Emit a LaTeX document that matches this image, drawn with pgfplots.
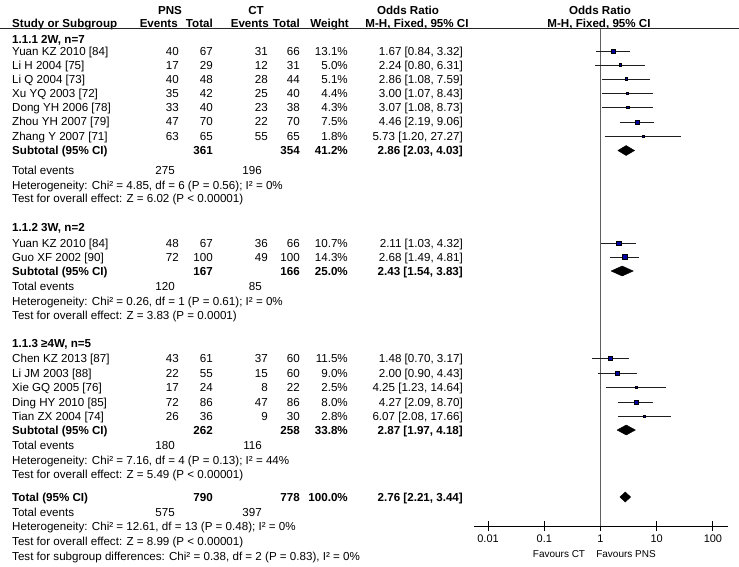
\documentclass[border=0pt]{standalone}
\usepackage{pgfplots}
\pgfplotsset{compat=1.18}
\usepackage{pgfplotstable}
\usepackage{fontspec}
\setmainfont{Liberation Sans}
\definecolor{sqblue}{RGB}{0,0,165}
\definecolor{vline}{RGB}{95,95,95}
\definecolor{ciline}{RGB}{30,30,30}

% study estimates: y = row position (px from top), or, lo, hi, weight, half-size of square
\pgfplotstableread{
y or lo hi w ms
51 1.67 0.84 3.32 13.1 2.26
65 2.24 0.80 6.31 5.0 1.40
79 2.86 1.08 7.59 5.1 1.41
93 3.00 1.07 8.43 4.4 1.31
107 3.07 1.08 8.73 4.3 1.30
122 4.46 2.19 9.06 7.5 1.71
136 5.73 1.20 27.27 1.8 0.84
243 2.11 1.03 4.32 10.7 2.04
257 2.68 1.49 4.81 14.3 2.36
358 1.48 0.70 3.17 11.5 2.12
373 2.00 0.90 4.43 9.0 1.88
387 4.25 1.23 14.64 2.5 0.99
402 4.27 2.09 8.70 8.0 1.77
416 6.07 2.08 17.66 2.8 1.05
}\studies

\tikzset{
  L/.style={anchor=base west, inner sep=0pt},
  Rt/.style={anchor=base east, inner sep=0pt},
  C/.style={anchor=base, inner sep=0pt}
}
\newcommand{\yb}[1]{{-(#1+4)*1pt}}
\newcommand{\study}[8]{%
  \node[L]  at (12pt,\yb{#1}) {#2};
  \node[Rt] at (179pt,\yb{#1}) {#3};
  \node[Rt] at (213pt,\yb{#1}) {#4};
  \node[Rt] at (268pt,\yb{#1}) {#5};
  \node[Rt] at (300pt,\yb{#1}) {#6};
  \node[Rt] at (348pt,\yb{#1}) {#7};
  \node[Rt] at (463pt,\yb{#1}) {#8};
}
\newcommand{\subtot}[6]{%
  \node[L,font=\bfseries]  at (12pt,\yb{#1}) {#2};
  \node[Rt,font=\bfseries] at (213pt,\yb{#1}) {#3};
  \node[Rt,font=\bfseries] at (300pt,\yb{#1}) {#4};
  \node[Rt,font=\bfseries] at (348pt,\yb{#1}) {#5};
  \node[Rt,font=\bfseries] at (463pt,\yb{#1}) {#6};
}
\newcommand{\totev}[3]{%
  \node[L]  at (12pt,\yb{#1}) {Total events};
  \node[Rt] at (175pt,\yb{#1}) {#2};
  \node[Rt] at (262pt,\yb{#1}) {#3};
}
\newcommand{\plain}[2]{\node[L] at (12pt,\yb{#1}) {#2};}
\newcommand{\grp}[2]{\node[L,font=\bfseries] at (12pt,\yb{#1}) {#2};}

\begin{document}
{\fontsize{11.6}{14}\selectfont
\begin{tikzpicture}
% header
\node[C,font=\bfseries] at (170pt,-14.5pt) {PNS};
\node[C,font=\bfseries] at (256pt,-14.5pt) {CT};
\node[C,font=\bfseries] at (408pt,-14.5pt) {Odds Ratio};
\node[C,font=\bfseries] at (600pt,-14.5pt) {Odds Ratio};
\node[L,font=\bfseries]  at (12pt,-27pt) {Study or Subgroup};
\node[Rt,font=\bfseries] at (178pt,-27pt) {Events};
\node[Rt,font=\bfseries] at (213pt,-27pt) {Total};
\node[Rt,font=\bfseries] at (269pt,-27pt) {Events};
\node[Rt,font=\bfseries] at (300pt,-27pt) {Total};
\node[Rt,font=\bfseries] at (349pt,-27pt) {Weight};
\node[C,font=\bfseries]  at (417pt,-27pt) {M-H, Fixed, 95\% CI};
\node[C,font=\bfseries]  at (599pt,-27pt) {M-H, Fixed, 95\% CI};
\draw[black!85, line width=0.9pt] (0pt,-28.5pt) -- (739pt,-28.5pt);

% group 1
\grp{39}{1.1.1 2W, n=7}
\study{51}{Yuan KZ 2010 [84]}{40}{67}{31}{66}{13.1\%}{1.67 [0.84, 3.32]}
\study{65}{Li H 2004 [75]}{17}{29}{12}{31}{5.0\%}{2.24 [0.80, 6.31]}
\study{79}{Li Q 2004 [73]}{40}{48}{28}{44}{5.1\%}{2.86 [1.08, 7.59]}
\study{93}{Xu YQ 2003 [72]}{35}{42}{25}{40}{4.4\%}{3.00 [1.07, 8.43]}
\study{107}{Dong YH 2006 [78]}{33}{40}{23}{38}{4.3\%}{3.07 [1.08, 8.73]}
\study{121.5}{Zhou YH 2007 [79]}{47}{70}{22}{70}{7.5\%}{4.46 [2.19, 9.06]}
\study{136}{Zhang Y 2007 [71]}{63}{65}{55}{65}{1.8\%}{5.73 [1.20, 27.27]}
\subtot{150.5}{Subtotal (95\% CI)}{361}{354}{41.2\%}{2.86 [2.03, 4.03]}
\totev{170}{275}{196}
\plain{185}{Heterogeneity: Chi² = 4.85, df = 6 (P = 0.56); I² = 0\%}
\plain{198}{Test for overall effect: Z = 6.02 (P < 0.00001)}

% group 2
\grp{227}{1.1.2 3W, n=2}
\study{243}{Yuan KZ 2010 [84]}{48}{67}{36}{66}{10.7\%}{2.11 [1.03, 4.32]}
\study{257}{Guo XF 2002 [90]}{72}{100}{49}{100}{14.3\%}{2.68 [1.49, 4.81]}
\subtot{271}{Subtotal (95\% CI)}{167}{166}{25.0\%}{2.43 [1.54, 3.83]}
\totev{286}{120}{85}
\plain{301}{Heterogeneity: Chi² = 0.26, df = 1 (P = 0.61); I² = 0\%}
\plain{315}{Test for overall effect: Z = 3.83 (P = 0.0001)}

% group 3
\grp{343}{1.1.3 ≥4W, n=5}
\study{358}{Chen KZ 2013 [87]}{43}{61}{37}{60}{11.5\%}{1.48 [0.70, 3.17]}
\study{373}{Li JM 2003 [88]}{22}{55}{15}{60}{9.0\%}{2.00 [0.90, 4.43]}
\study{387}{Xie GQ 2005 [76]}{17}{24}{8}{22}{2.5\%}{4.25 [1.23, 14.64]}
\study{402}{Ding HY 2010 [85]}{72}{86}{47}{86}{8.0\%}{4.27 [2.09, 8.70]}
\study{416}{Tian ZX 2004 [74]}{26}{36}{9}{30}{2.8\%}{6.07 [2.08, 17.66]}
\subtot{430}{Subtotal (95\% CI)}{262}{258}{33.8\%}{2.87 [1.97, 4.18]}
\totev{445}{180}{116}
\plain{460}{Heterogeneity: Chi² = 7.16, df = 4 (P = 0.13); I² = 44\%}
\plain{474}{Test for overall effect: Z = 5.49 (P < 0.00001)}

% overall
\subtot{497}{Total (95\% CI)}{790}{778}{100.0\%}{2.76 [2.21, 3.44]}
\totev{512}{575}{397}
\plain{526}{Heterogeneity: Chi² = 12.61, df = 13 (P = 0.48); I² = 0\%}
\plain{541}{Test for overall effect: Z = 8.99 (P < 0.00001)}
\plain{556}{Test for subgroup differences: Chi² = 0.38, df = 2 (P = 0.83), I² = 0\%}

\begin{axis}[
  at={(474pt,-526pt)}, anchor=south west,
  width=254pt, height=497.5pt, scale only axis,
  xmode=log, xmin=0.005623, xmax=185.4,
  ymin=28.5, ymax=526, y dir=reverse,
  axis x line*=bottom, axis y line=none,
  xtick={0.01,0.1,1,10,100}, xticklabels={0.01,0.1,1,10,100},
  xminorticks=false, tick align=center, major tick length=10pt,
  tick style={black, line width=0.9pt},
  axis line style={black, line width=0.9pt},
  xticklabel style={font=\fontsize{11}{13}\selectfont},
  clip=false,
]
\draw[vline, line width=0.9pt] (axis cs:1,28.5) -- (axis cs:1,526);
% confidence intervals
\addplot[ciline, line width=0.9pt] coordinates {(0.84,51) (3.32,51)};
\addplot[ciline, line width=0.9pt] coordinates {(0.80,65) (6.31,65)};
\addplot[ciline, line width=0.9pt] coordinates {(1.08,79) (7.59,79)};
\addplot[ciline, line width=0.9pt] coordinates {(1.07,93) (8.43,93)};
\addplot[ciline, line width=0.9pt] coordinates {(1.08,107) (8.73,107)};
\addplot[ciline, line width=0.9pt] coordinates {(2.19,122) (9.06,122)};
\addplot[ciline, line width=0.9pt] coordinates {(1.20,136) (27.27,136)};
\addplot[ciline, line width=0.9pt] coordinates {(1.03,243) (4.32,243)};
\addplot[ciline, line width=0.9pt] coordinates {(1.49,257) (4.81,257)};
\addplot[ciline, line width=0.9pt] coordinates {(0.70,358) (3.17,358)};
\addplot[ciline, line width=0.9pt] coordinates {(0.90,373) (4.43,373)};
\addplot[ciline, line width=0.9pt] coordinates {(1.23,387) (14.64,387)};
\addplot[ciline, line width=0.9pt] coordinates {(2.09,402) (8.70,402)};
\addplot[ciline, line width=0.9pt] coordinates {(2.08,416) (17.66,416)};
% study squares
\addplot[scatter, only marks, mark=square*,
  scatter/use mapped color={draw=none, fill=sqblue},
  visualization depends on={\thisrow{ms}\as\msz},
  scatter/@pre marker code/.append style={/tikz/mark size=\msz}]
  table[x=or, y=y, meta=w] {\studies};
% pooled diamonds
\addplot[fill=black, draw=black] coordinates {(2.03,150.5) (2.86,145.5) (4.03,150.5) (2.86,155.5) (2.03,150.5)};
\addplot[fill=black, draw=black] coordinates {(1.54,271) (2.43,266) (3.83,271) (2.43,276) (1.54,271)};
\addplot[fill=black, draw=black] coordinates {(1.97,430) (2.87,425) (4.18,430) (2.87,435) (1.97,430)};
\addplot[fill=black, draw=black] coordinates {(2.21,497) (2.76,492) (3.44,497) (2.76,502) (2.21,497)};
\end{axis}

{\fontsize{10}{12}\selectfont
\node[C] at (559pt,-557pt) {Favours CT};
\node[C] at (626pt,-557pt) {Favours PNS};
}
\pgfresetboundingbox
\path[use as bounding box] (0pt,0pt) rectangle (739pt,-566pt);
\end{tikzpicture}%
}
\end{document}
